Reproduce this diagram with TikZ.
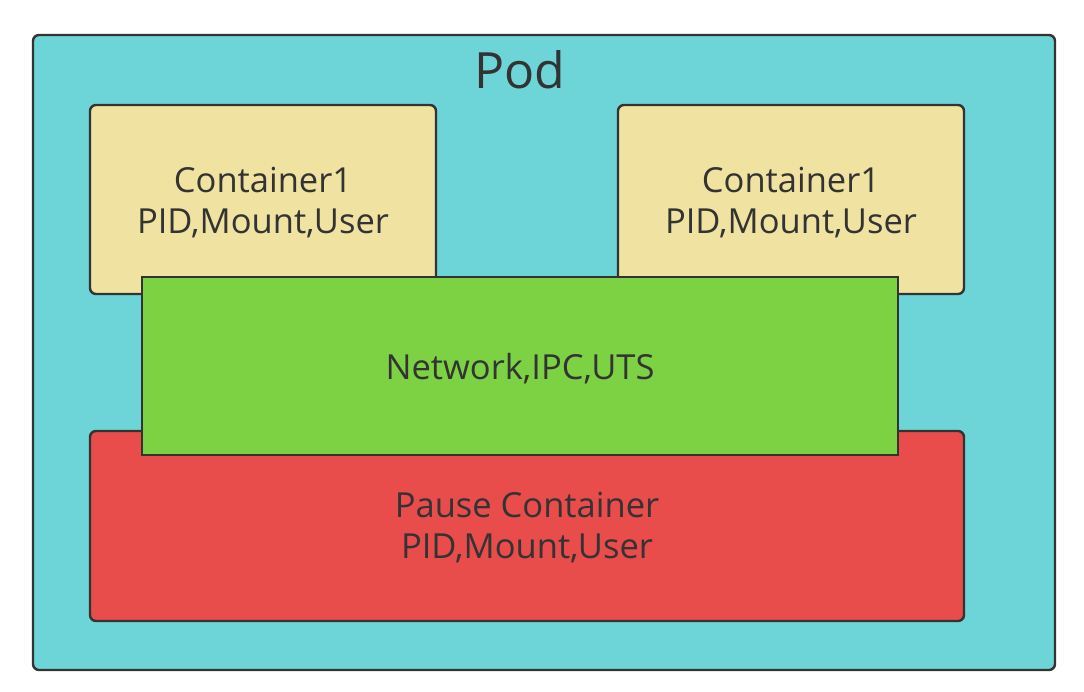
\documentclass[tikz,border=0pt]{standalone}
\usepackage{fontspec}
\setmainfont{Open Sans}
\definecolor{podc}{HTML}{6DD5D7}
\definecolor{yelc}{HTML}{F0E2A1}
\definecolor{grnc}{HTML}{7CD243}
\definecolor{redc}{HTML}{E84C4B}
\definecolor{edgec}{HTML}{333333}
\definecolor{txtc}{HTML}{333333}
\begin{document}
\begin{tikzpicture}[x=1pt,y=-1pt,
  boxst/.style={draw=edgec,line width=2.4pt},
  lbl/.style={text=txtc,align=center,inner sep=0pt,font=\fontsize{34.5}{41}\selectfont}]
\useasboundingbox (0,0) rectangle (1084,691);
\fill[white] (0,0) rectangle (1084,691);
\draw[boxst,fill=podc,rounded corners=6pt] (33,35) rectangle (1055,670);
\node[text=txtc,inner sep=0pt,font=\fontsize{50}{56}\selectfont,anchor=base] (pod) at (520,88) {Pod};
\draw[boxst,fill=yelc,rounded corners=6pt] (90,105) rectangle (436,294);
\draw[boxst,fill=yelc,rounded corners=6pt] (618,105) rectangle (964,294);
\draw[boxst,fill=redc,rounded corners=6pt] (90,431) rectangle (964,621);
\draw[boxst,fill=grnc] (142,277) rectangle (898,455);
\node[lbl] (c1) at (263,203) {Container1\\PID,Mount,User};
\node[lbl] (c2) at (791,203) {Container1\\PID,Mount,User};
\node[lbl] (net) at (520,369) {Network,IPC,UTS};
\node[lbl] (pause) at (527,528) {Pause Container\\PID,Mount,User};
\end{tikzpicture}
\end{document}
